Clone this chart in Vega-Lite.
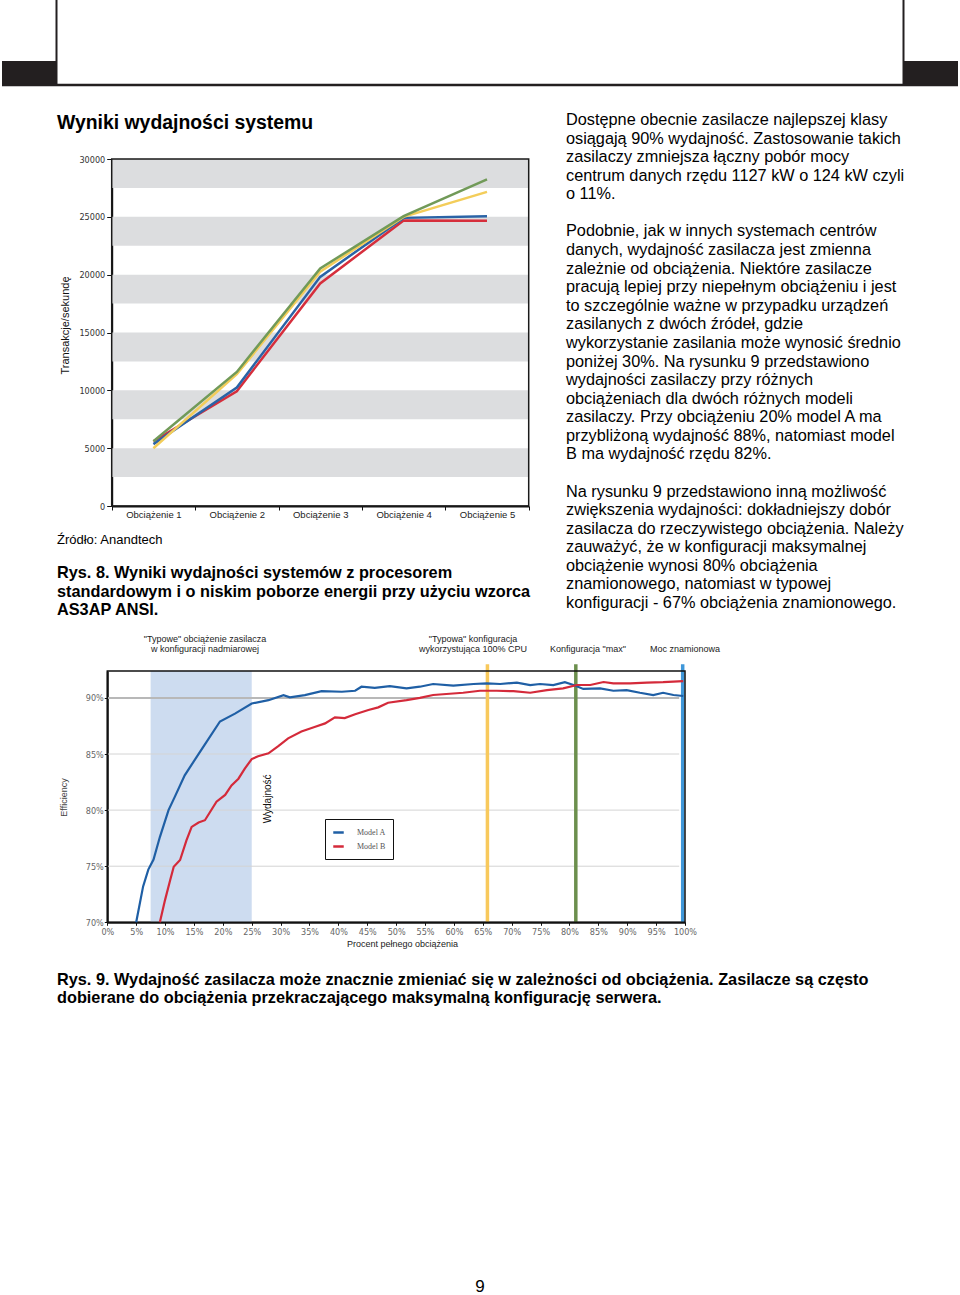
{
"$schema": "https://vega.github.io/schema/vega-lite/v6.json",
"width": 960, "height": 1295,
"autosize": {"type": "none"},
"padding": 0,
"background": "#ffffff",
"config": {"view": {"stroke": null}, "font": "Liberation Sans"},
"resolve": {"scale": {"x": "independent", "y": "independent", "color": "independent"}, "axis": {"x": "independent", "y": "independent"}, "legend": {"color": "independent"}},
"layer": [
{"data": {"values": [{"s": "lewy"}]}, "mark": {"type": "rect", "color": "#231f20"},
 "encoding": {"x": {"datum": 0, "scale": {"domain": [0, 1], "range": [2, 56], "nice": false, "zero": false}, "axis": null}, "x2": {"datum": 1},
  "y": {"datum": 0, "scale": {"domain": [0, 1], "range": [61, 85], "nice": false, "zero": false}, "axis": null}, "y2": {"datum": 1}}},
{"data": {"values": [{"s": "prawy"}]}, "mark": {"type": "rect", "color": "#231f20"},
 "encoding": {"x": {"datum": 0, "scale": {"domain": [0, 1], "range": [903, 958], "nice": false, "zero": false}, "axis": null}, "x2": {"datum": 1},
  "y": {"datum": 0, "scale": {"domain": [0, 1], "range": [61, 85], "nice": false, "zero": false}, "axis": null}, "y2": {"datum": 1}}},
{"data": {"values": [{"e": 0}, {"e": 1}]}, "mark": {"type": "rule", "color": "#231f20", "strokeWidth": 2},
 "encoding": {"x": {"field": "e", "type": "quantitative", "scale": {"domain": [0, 1], "range": [56.5, 903.5], "nice": false, "zero": false}, "axis": null},
  "y": {"datum": 0, "scale": {"domain": [0, 1], "range": [0, 85], "nice": false, "zero": false}, "axis": null}, "y2": {"datum": 1}}},
{"data": {"values": [{"e": 0}]}, "mark": {"type": "rule", "color": "#231f20", "strokeWidth": 2.5},
 "encoding": {"x": {"datum": 0, "scale": {"domain": [0, 1], "range": [2, 958], "nice": false, "zero": false}, "axis": null}, "x2": {"datum": 1},
  "y": {"datum": 0, "scale": {"domain": [0, 1], "range": [85, 86], "nice": false, "zero": false}, "axis": null}}},

{"data": {"values": [{"lo": 2500, "hi": 5000}, {"lo": 7500, "hi": 10000}, {"lo": 12500, "hi": 15000}, {"lo": 17500, "hi": 20000}, {"lo": 22500, "hi": 25000}, {"lo": 27500, "hi": 30000}]},
 "mark": {"type": "rect", "color": "#dcdddf"},
 "encoding": {"x": {"datum": 0, "scale": {"domain": [0, 5], "range": [111.7, 528.7], "nice": false, "zero": false}, "axis": null}, "x2": {"datum": 5},
  "y": {"field": "lo", "type": "quantitative", "scale": {"domain": [0, 30000], "range": [506, 159], "nice": false, "zero": false}, "axis": null}, "y2": {"field": "hi"}}},
{"data": {"values": [{"f": 1}]}, "mark": {"type": "rect", "fillOpacity": 0, "stroke": "#1a1a1a", "strokeWidth": 1.5},
 "encoding": {"x": {"datum": 0, "scale": {"domain": [0, 5], "range": [111.7, 528.7], "nice": false, "zero": false}, "axis": null}, "x2": {"datum": 5},
  "y": {"datum": 0, "scale": {"domain": [0, 30000], "range": [506, 159], "nice": false, "zero": false}, "axis": null}, "y2": {"datum": 30000}}},
{"data": {"values": [
  {"seria": "Seria czerwona", "obc": "Obciążenie 1", "tps": 5600}, {"seria": "Seria czerwona", "obc": "Obciążenie 2", "tps": 9920}, {"seria": "Seria czerwona", "obc": "Obciążenie 3", "tps": 19240}, {"seria": "Seria czerwona", "obc": "Obciążenie 4", "tps": 24690}, {"seria": "Seria czerwona", "obc": "Obciążenie 5", "tps": 24660},
  {"seria": "Seria niebieska", "obc": "Obciążenie 1", "tps": 5350}, {"seria": "Seria niebieska", "obc": "Obciążenie 2", "tps": 10240}, {"seria": "Seria niebieska", "obc": "Obciążenie 3", "tps": 19810}, {"seria": "Seria niebieska", "obc": "Obciążenie 4", "tps": 24910}, {"seria": "Seria niebieska", "obc": "Obciążenie 5", "tps": 25060},
  {"seria": "Seria żółta", "obc": "Obciążenie 1", "tps": 4990}, {"seria": "Seria żółta", "obc": "Obciążenie 2", "tps": 11390}, {"seria": "Seria żółta", "obc": "Obciążenie 3", "tps": 20250}, {"seria": "Seria żółta", "obc": "Obciążenie 4", "tps": 25000}, {"seria": "Seria żółta", "obc": "Obciążenie 5", "tps": 27160},
  {"seria": "Seria zielona", "obc": "Obciążenie 1", "tps": 5600}, {"seria": "Seria zielona", "obc": "Obciążenie 2", "tps": 11590}, {"seria": "Seria zielona", "obc": "Obciążenie 3", "tps": 20540}, {"seria": "Seria zielona", "obc": "Obciążenie 4", "tps": 25060}, {"seria": "Seria zielona", "obc": "Obciążenie 5", "tps": 28240}
 ]},
 "mark": {"type": "line", "strokeWidth": 2.5},
 "encoding": {
  "x": {"field": "obc", "type": "nominal", "sort": null,
   "scale": {"type": "band", "domain": ["Obciążenie 1", "Obciążenie 2", "Obciążenie 3", "Obciążenie 4", "Obciążenie 5"], "range": [111.7, 528.7], "paddingInner": 0, "paddingOuter": 0},
   "axis": {"orient": "bottom", "offset": -789, "title": null, "tickBand": "extent", "labelAngle": 0, "domainColor": "#111", "domainWidth": 2, "tickColor": "#111", "tickSize": 4, "labelFont": "Liberation Sans", "labelFontSize": 9.5, "labelColor": "#222", "labelPadding": -1, "labelOverlap": false}},
  "y": {"field": "tps", "type": "quantitative", "scale": {"domain": [0, 30000], "range": [506, 159], "nice": false, "zero": false},
   "axis": {"orient": "left", "offset": -111.7, "values": [0, 5000, 10000, 15000, 20000, 25000, 30000], "format": "d", "grid": false, "domainColor": "#111", "domainWidth": 2, "tickColor": "#111", "tickSize": 5, "labelFont": "Liberation Sans Narrow, DejaVu Sans Condensed, Liberation Sans", "labelFontSize": 9, "labelColor": "#333", "labelPadding": 2, "labelOverlap": false,
    "title": "Transakcje/sekundę", "titleFont": "Liberation Sans", "titleFontSize": 11, "titleFontWeight": "normal", "titleColor": "#111", "titleX": -41, "titleY": 325, "titleAngle": 270, "titleBaseline": "bottom", "titleAlign": "center"}},
  "color": {"field": "seria", "type": "nominal", "scale": {"domain": ["Seria czerwona", "Seria niebieska", "Seria żółta", "Seria zielona"], "range": ["#d62e3c", "#2a63a6", "#f3cd5a", "#719a58"]}, "legend": null},
  "order": {"field": "seria"}
 }},

{"data": {"values": [{"od": 7.5, "do": 25}]}, "mark": {"type": "rect", "color": "#cddcf0"},
 "encoding": {"x": {"field": "od", "type": "quantitative", "scale": {"domain": [0, 100], "range": [107.3, 685], "nice": false, "zero": false}, "axis": null}, "x2": {"field": "do"},
  "y": {"datum": 70, "scale": {"domain": [70, 92.4], "range": [922.3, 671], "nice": false, "zero": false}, "axis": null}, "y2": {"datum": 92.4}}},
{"data": {"values": [{"e": 75}, {"e": 80}, {"e": 85}, {"e": 90}]}, "mark": {"type": "rule"},
 "encoding": {"x": {"datum": 0, "scale": {"domain": [0, 100], "range": [107.3, 685], "nice": false, "zero": false}, "axis": null}, "x2": {"datum": 99},
  "y": {"field": "e", "type": "quantitative", "scale": {"domain": [70, 92.4], "range": [922.3, 671], "nice": false, "zero": false}, "axis": null},
  "color": {"condition": {"test": "datum.e === 90", "value": "#b8b8b8"}, "value": "#d4d4d4"},
  "strokeWidth": {"condition": {"test": "datum.e === 90", "value": 2}, "value": 1}}},
{"data": {"values": [{"konf": "Typowa konfiguracja 100% CPU", "obc": 65.8}, {"konf": "Konfiguracja max", "obc": 81.1}, {"konf": "Moc znamionowa", "obc": 99.6}]},
 "mark": {"type": "rule", "strokeWidth": 3.5},
 "encoding": {"x": {"field": "obc", "type": "quantitative", "scale": {"domain": [0, 100], "range": [107.3, 685], "nice": false, "zero": false}, "axis": null},
  "y": {"datum": 70, "scale": {"domain": [70, 92.4], "range": [922.3, 671], "nice": false, "zero": false}, "axis": null}, "y2": {"datum": 93},
  "color": {"field": "konf", "type": "nominal", "scale": {"domain": ["Typowa konfiguracja 100% CPU", "Konfiguracja max", "Moc znamionowa"], "range": ["#f8c95c", "#6c8f4d", "#3f97d9"]}, "legend": null}}},
{"data": {"values": [{"f": 1}]}, "mark": {"type": "rect", "fillOpacity": 0, "stroke": "#111", "strokeWidth": 1.5},
 "encoding": {"x": {"datum": 0, "scale": {"domain": [0, 100], "range": [107.3, 685], "nice": false, "zero": false}, "axis": null}, "x2": {"datum": 100},
  "y": {"datum": 70, "scale": {"domain": [70, 92.4], "range": [922.3, 671], "nice": false, "zero": false}, "axis": null}, "y2": {"datum": 92.4}}},
{"data": {"values": [
  {"model": "Model A", "obc": 5.0, "wyd": 70.0}, {"model": "Model A", "obc": 6.2, "wyd": 73.2}, {"model": "Model A", "obc": 7.1, "wyd": 74.7}, {"model": "Model A", "obc": 8.0, "wyd": 75.6}, {"model": "Model A", "obc": 9.1, "wyd": 77.6}, {"model": "Model A", "obc": 10.6, "wyd": 80.0}, {"model": "Model A", "obc": 11.7, "wyd": 81.2}, {"model": "Model A", "obc": 13.4, "wyd": 83.1}, {"model": "Model A", "obc": 16.3, "wyd": 85.4}, {"model": "Model A", "obc": 19.5, "wyd": 87.9}, {"model": "Model A", "obc": 22.1, "wyd": 88.6}, {"model": "Model A", "obc": 25.0, "wyd": 89.5}, {"model": "Model A", "obc": 27.9, "wyd": 89.8}, {"model": "Model A", "obc": 30.5, "wyd": 90.25}, {"model": "Model A", "obc": 31.6, "wyd": 90.05}, {"model": "Model A", "obc": 34.2, "wyd": 90.25}, {"model": "Model A", "obc": 37.1, "wyd": 90.6}, {"model": "Model A", "obc": 40.6, "wyd": 90.55}, {"model": "Model A", "obc": 42.9, "wyd": 90.64}, {"model": "Model A", "obc": 44.0, "wyd": 91.0}, {"model": "Model A", "obc": 46.3, "wyd": 90.9}, {"model": "Model A", "obc": 48.9, "wyd": 91.05}, {"model": "Model A", "obc": 51.8, "wyd": 90.85}, {"model": "Model A", "obc": 54.1, "wyd": 91.0}, {"model": "Model A", "obc": 56.4, "wyd": 91.24}, {"model": "Model A", "obc": 59.9, "wyd": 91.1}, {"model": "Model A", "obc": 63.4, "wyd": 91.24}, {"model": "Model A", "obc": 65.7, "wyd": 91.3}, {"model": "Model A", "obc": 68.0, "wyd": 91.24}, {"model": "Model A", "obc": 70.9, "wyd": 91.36}, {"model": "Model A", "obc": 73.2, "wyd": 91.15}, {"model": "Model A", "obc": 74.9, "wyd": 91.24}, {"model": "Model A", "obc": 77.2, "wyd": 91.15}, {"model": "Model A", "obc": 79.2, "wyd": 91.4}, {"model": "Model A", "obc": 80.7, "wyd": 91.15}, {"model": "Model A", "obc": 82.4, "wyd": 90.8}, {"model": "Model A", "obc": 85.3, "wyd": 90.85}, {"model": "Model A", "obc": 87.6, "wyd": 90.64}, {"model": "Model A", "obc": 89.9, "wyd": 90.7}, {"model": "Model A", "obc": 92.2, "wyd": 90.46}, {"model": "Model A", "obc": 94.5, "wyd": 90.26}, {"model": "Model A", "obc": 96.2, "wyd": 90.46}, {"model": "Model A", "obc": 98.0, "wyd": 90.26}, {"model": "Model A", "obc": 99.7, "wyd": 90.17},
  {"model": "Model B", "obc": 9.1, "wyd": 70.0}, {"model": "Model B", "obc": 10.0, "wyd": 72.0}, {"model": "Model B", "obc": 10.9, "wyd": 73.8}, {"model": "Model B", "obc": 11.5, "wyd": 74.95}, {"model": "Model B", "obc": 12.6, "wyd": 75.55}, {"model": "Model B", "obc": 13.7, "wyd": 77.3}, {"model": "Model B", "obc": 14.6, "wyd": 78.5}, {"model": "Model B", "obc": 15.8, "wyd": 78.9}, {"model": "Model B", "obc": 16.9, "wyd": 79.1}, {"model": "Model B", "obc": 18.9, "wyd": 80.75}, {"model": "Model B", "obc": 20.4, "wyd": 81.35}, {"model": "Model B", "obc": 21.5, "wyd": 82.2}, {"model": "Model B", "obc": 22.7, "wyd": 82.8}, {"model": "Model B", "obc": 23.8, "wyd": 83.7}, {"model": "Model B", "obc": 25.0, "wyd": 84.55}, {"model": "Model B", "obc": 26.1, "wyd": 84.8}, {"model": "Model B", "obc": 27.9, "wyd": 85.06}, {"model": "Model B", "obc": 29.6, "wyd": 85.7}, {"model": "Model B", "obc": 31.3, "wyd": 86.4}, {"model": "Model B", "obc": 33.6, "wyd": 87.0}, {"model": "Model B", "obc": 36.0, "wyd": 87.43}, {"model": "Model B", "obc": 37.7, "wyd": 87.73}, {"model": "Model B", "obc": 39.4, "wyd": 88.27}, {"model": "Model B", "obc": 41.1, "wyd": 88.2}, {"model": "Model B", "obc": 42.9, "wyd": 88.54}, {"model": "Model B", "obc": 45.2, "wyd": 88.92}, {"model": "Model B", "obc": 46.9, "wyd": 89.16}, {"model": "Model B", "obc": 48.6, "wyd": 89.57}, {"model": "Model B", "obc": 51.8, "wyd": 89.8}, {"model": "Model B", "obc": 54.1, "wyd": 90.0}, {"model": "Model B", "obc": 56.4, "wyd": 90.26}, {"model": "Model B", "obc": 58.7, "wyd": 90.35}, {"model": "Model B", "obc": 61.6, "wyd": 90.46}, {"model": "Model B", "obc": 64.5, "wyd": 90.64}, {"model": "Model B", "obc": 67.4, "wyd": 90.64}, {"model": "Model B", "obc": 70.3, "wyd": 90.6}, {"model": "Model B", "obc": 73.2, "wyd": 90.46}, {"model": "Model B", "obc": 76.1, "wyd": 90.7}, {"model": "Model B", "obc": 78.9, "wyd": 90.85}, {"model": "Model B", "obc": 81.3, "wyd": 91.15}, {"model": "Model B", "obc": 83.6, "wyd": 91.15}, {"model": "Model B", "obc": 85.9, "wyd": 91.42}, {"model": "Model B", "obc": 87.6, "wyd": 91.3}, {"model": "Model B", "obc": 90.5, "wyd": 91.3}, {"model": "Model B", "obc": 93.4, "wyd": 91.36}, {"model": "Model B", "obc": 96.2, "wyd": 91.4}, {"model": "Model B", "obc": 98.0, "wyd": 91.45}, {"model": "Model B", "obc": 99.7, "wyd": 91.5}
 ]},
 "mark": {"type": "line", "strokeWidth": 2.2},
 "encoding": {
  "x": {"field": "obc", "type": "quantitative", "scale": {"domain": [0, 100], "range": [107.3, 685], "nice": false, "zero": false},
   "axis": {"orient": "bottom", "offset": -372.7, "values": [0, 5, 10, 15, 20, 25, 30, 35, 40, 45, 50, 55, 60, 65, 70, 75, 80, 85, 90, 95, 100], "labelExpr": "datum.value + '%'", "grid": false, "labelFlush": false, "labelOverlap": false,
    "domainColor": "#111", "domainWidth": 2, "tickColor": "#111", "tickSize": 3, "labelFont": "Liberation Sans Narrow, DejaVu Sans Condensed, Liberation Sans", "labelFontSize": 9, "labelColor": "#666", "labelPadding": 2,
    "title": "Procent pełnego obciążenia", "titleFont": "Liberation Sans", "titleFontSize": 9, "titleFontWeight": "normal", "titleColor": "#222", "titleX": 402, "titleY": 21, "titleBaseline": "middle", "titleAlign": "center"}},
  "y": {"field": "wyd", "type": "quantitative", "scale": {"domain": [70, 92.4], "range": [922.3, 671], "nice": false, "zero": false},
   "axis": {"orient": "left", "offset": -107.3, "values": [70, 75, 80, 85, 90], "labelExpr": "datum.value + '%'", "grid": false, "labelOverlap": false,
    "domainColor": "#111", "domainWidth": 2, "tickColor": "#111", "tickSize": 3, "labelFont": "Liberation Sans Narrow, DejaVu Sans Condensed, Liberation Sans", "labelFontSize": 9, "labelColor": "#666", "labelPadding": 1,
    "title": "Efficiency", "titleFont": "Liberation Sans", "titleFontSize": 9, "titleFontWeight": "normal", "titleColor": "#444", "titleX": -39, "titleY": 797, "titleAngle": 270, "titleBaseline": "bottom", "titleAlign": "center"}},
  "color": {"field": "model", "type": "nominal", "scale": {"domain": ["Model A", "Model B"], "range": ["#1f5fa5", "#d42a3a"]},
   "legend": {"orient": "none", "legendX": 325, "legendY": 819, "direction": "vertical", "title": null, "symbolType": "stroke", "symbolStrokeWidth": 2.5, "symbolSize": 110, "labelFont": "Liberation Serif", "labelFontSize": 8, "labelColor": "#555", "labelOffset": 12, "strokeColor": "#111", "padding": 7, "rowPadding": 2}}
 }},
{"data": {"values": [
  {"opis": "\"Typowe\" obciążenie zasilacza", "obc": 16.9, "w": 1},
  {"opis": "w konfiguracji nadmiarowej", "obc": 16.9, "w": 0},
  {"opis": "\"Typowa\" konfiguracja", "obc": 63.3, "w": 1},
  {"opis": "wykorzystująca 100% CPU", "obc": 63.3, "w": 0},
  {"opis": "Konfiguracja \"max\"", "obc": 83.2, "w": 0},
  {"opis": "Moc znamionowa", "obc": 100, "w": 0}
 ]},
 "mark": {"type": "text", "align": "center", "baseline": "middle", "font": "Liberation Sans", "fontSize": 9, "color": "#222"},
 "encoding": {"text": {"field": "opis", "type": "nominal"},
  "x": {"field": "obc", "type": "quantitative", "scale": {"domain": [0, 100], "range": [107.3, 685], "nice": false, "zero": false}, "axis": null},
  "y": {"field": "w", "type": "quantitative", "scale": {"domain": [0, 1], "range": [649, 638.5], "nice": false, "zero": false}, "axis": null}}},
{"data": {"values": [{"t": "Wydajność"}]},
 "mark": {"type": "text", "align": "center", "baseline": "middle", "angle": 270, "font": "Liberation Sans", "fontSize": 10, "color": "#111"},
 "encoding": {"text": {"field": "t"},
  "x": {"datum": 27.8, "scale": {"domain": [0, 100], "range": [107.3, 685], "nice": false, "zero": false}, "axis": null},
  "y": {"datum": 81, "scale": {"domain": [70, 92.4], "range": [922.3, 671], "nice": false, "zero": false}, "axis": null}}},

{"data": {"values": [{"t": "Wyniki wydajności systemu"}]},
 "mark": {"type": "text", "align": "left", "baseline": "middle", "font": "Liberation Sans", "fontSize": 19.4, "fontWeight": "bold", "color": "#000"},
 "encoding": {"text": {"field": "t"},
  "x": {"datum": 0, "scale": {"domain": [0, 1], "range": [57, 58], "nice": false, "zero": false}, "axis": null},
  "y": {"datum": 0, "scale": {"domain": [0, 1], "range": [123, 124], "nice": false, "zero": false}, "axis": null}}},
{"data": {"values": [
  {"n": 0, "t": "Dostępne obecnie zasilacze najlepszej klasy"},
  {"n": 1, "t": "osiągają 90% wydajność. Zastosowanie takich"},
  {"n": 2, "t": "zasilaczy zmniejsza łączny pobór mocy"},
  {"n": 3, "t": "centrum danych rzędu 1127 kW o 124 kW czyli"},
  {"n": 4, "t": "o 11%."},
  {"n": 6, "t": "Podobnie, jak w innych systemach centrów"},
  {"n": 7, "t": "danych, wydajność zasilacza jest zmienna"},
  {"n": 8, "t": "zależnie od obciążenia. Niektóre zasilacze"},
  {"n": 9, "t": "pracują lepiej przy niepełnym obciążeniu i jest"},
  {"n": 10, "t": "to szczególnie ważne w przypadku urządzeń"},
  {"n": 11, "t": "zasilanych z dwóch źródeł, gdzie"},
  {"n": 12, "t": "wykorzystanie zasilania może wynosić średnio"},
  {"n": 13, "t": "poniżej 30%. Na rysunku 9 przedstawiono"},
  {"n": 14, "t": "wydajności zasilaczy przy różnych"},
  {"n": 15, "t": "obciążeniach dla dwóch różnych modeli"},
  {"n": 16, "t": "zasilaczy. Przy obciążeniu 20% model A ma"},
  {"n": 17, "t": "przybliżoną wydajność 88%, natomiast model"},
  {"n": 18, "t": "B ma wydajność rzędu 82%."},
  {"n": 20, "t": "Na rysunku 9 przedstawiono inną możliwość"},
  {"n": 21, "t": "zwiększenia wydajności: dokładniejszy dobór"},
  {"n": 22, "t": "zasilacza do rzeczywistego obciążenia. Należy"},
  {"n": 23, "t": "zauważyć, że w konfiguracji maksymalnej"},
  {"n": 24, "t": "obciążenie wynosi 80% obciążenia"},
  {"n": 25, "t": "znamionowego, natomiast w typowej"},
  {"n": 26, "t": "konfiguracji - 67% obciążenia znamionowego."}
 ]},
 "mark": {"type": "text", "align": "left", "baseline": "middle", "font": "Liberation Sans", "fontSize": 16.3, "color": "#000"},
 "encoding": {"text": {"field": "t"},
  "x": {"datum": 0, "scale": {"domain": [0, 1], "range": [566, 567], "nice": false, "zero": false}, "axis": null},
  "y": {"field": "n", "type": "quantitative", "scale": {"domain": [0, 26], "range": [120, 603], "nice": false, "zero": false}, "axis": null}}},
{"data": {"values": [{"t": "Źródło: Anandtech"}]},
 "mark": {"type": "text", "align": "left", "baseline": "middle", "font": "Liberation Sans", "fontSize": 13, "color": "#000"},
 "encoding": {"text": {"field": "t"},
  "x": {"datum": 0, "scale": {"domain": [0, 1], "range": [57, 58], "nice": false, "zero": false}, "axis": null},
  "y": {"datum": 0, "scale": {"domain": [0, 1], "range": [540, 541], "nice": false, "zero": false}, "axis": null}}},
{"data": {"values": [
  {"n": 0, "t": "Rys. 8. Wyniki wydajności systemów z procesorem"},
  {"n": 1, "t": "standardowym i o niskim poborze energii przy użyciu wzorca"},
  {"n": 2, "t": "AS3AP ANSI."}
 ]},
 "mark": {"type": "text", "align": "left", "baseline": "middle", "font": "Liberation Sans", "fontSize": 16.3, "fontWeight": "bold", "color": "#000"},
 "encoding": {"text": {"field": "t"},
  "x": {"datum": 0, "scale": {"domain": [0, 1], "range": [57, 58], "nice": false, "zero": false}, "axis": null},
  "y": {"field": "n", "type": "quantitative", "scale": {"domain": [0, 2], "range": [573, 610], "nice": false, "zero": false}, "axis": null}}},
{"data": {"values": [
  {"n": 0, "t": "Rys. 9. Wydajność zasilacza może znacznie zmieniać się w zależności od obciążenia. Zasilacze są często"},
  {"n": 1, "t": "dobierane do obciążenia przekraczającego maksymalną konfigurację serwera."}
 ]},
 "mark": {"type": "text", "align": "left", "baseline": "middle", "font": "Liberation Sans", "fontSize": 16.3, "fontWeight": "bold", "color": "#000"},
 "encoding": {"text": {"field": "t"},
  "x": {"datum": 0, "scale": {"domain": [0, 1], "range": [57, 58], "nice": false, "zero": false}, "axis": null},
  "y": {"field": "n", "type": "quantitative", "scale": {"domain": [0, 1], "range": [980, 998], "nice": false, "zero": false}, "axis": null}}},
{"data": {"values": [{"t": "9"}]},
 "mark": {"type": "text", "align": "center", "baseline": "middle", "font": "Liberation Sans", "fontSize": 17, "color": "#000"},
 "encoding": {"text": {"field": "t"},
  "x": {"datum": 0, "scale": {"domain": [0, 1], "range": [480, 481], "nice": false, "zero": false}, "axis": null},
  "y": {"datum": 0, "scale": {"domain": [0, 1], "range": [1287, 1288], "nice": false, "zero": false}, "axis": null}}}
]
}
